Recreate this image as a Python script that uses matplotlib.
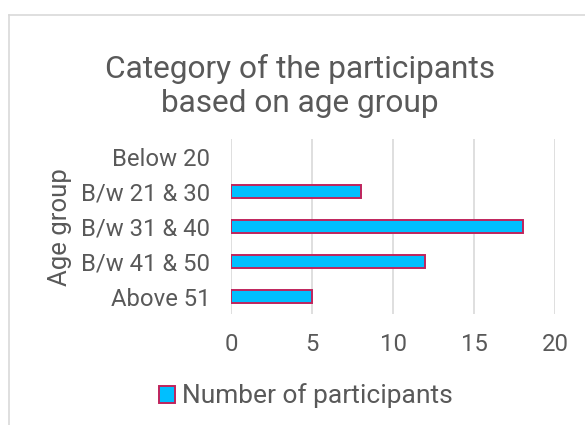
import matplotlib
matplotlib.use("Agg")
import matplotlib.pyplot as plt
from matplotlib.patches import Rectangle
from matplotlib.lines import Line2D

categories = ["Below 20", "B/w 21 & 30", "B/w 31 & 40", "B/w 41 & 50", "Above 51"]
participants = [0, 8, 18, 12, 5]
x_ticks = [0, 5, 10, 15, 20]
series_name = "Number of participants"

TEXT = "#595959"
GRID = "#d9d9d9"
FILL = "#00bfff"
EDGE = "#c0245c"

plt.rcParams["font.family"] = ["Roboto", "DejaVu Sans"]

W, H = 585, 425
fig = plt.figure(figsize=(W / 100, H / 100), dpi=100)
fig.patch.set_facecolor("white")


def fx(px):
    return px / W


def fy(py):
    return 1 - py / H


# chart-area border (top and left edges)
fig.add_artist(Line2D([fx(9), fx(9)], [0, fy(15)], transform=fig.transFigure,
                      color=GRID, lw=1.2))
fig.add_artist(Line2D([fx(9), 1], [fy(15), fy(15)], transform=fig.transFigure,
                      color=GRID, lw=1.2))

ax = fig.add_axes([fx(231), fy(314), fx(555) - fx(231), fy(139) - fy(314)])
ypos = list(range(len(categories)))
bars = ax.barh(ypos, participants, height=0.37, color=FILL, edgecolor=EDGE, linewidth=1.4,
               label=series_name, zorder=3)
# an empty category has no visible bar, not even its outline
for bar, v in zip(bars, participants):
    if v == 0:
        bar.set_linewidth(0)

ax.set_xlim(0, 20)
ax.set_ylim(len(categories) - 0.5, -0.5)
ax.set_xticks(x_ticks)
ax.set_yticks(ypos)
ax.set_yticklabels(categories)
ax.grid(axis="x", color=GRID, lw=1.2, zorder=0)
for s in ax.spines.values():
    s.set_visible(False)
ax.tick_params(axis="both", length=0, colors=TEXT, labelsize=17.2)
ax.tick_params(axis="y", pad=15)
ax.tick_params(axis="x", pad=13.5)

fig.text(fx(60), fy(227), "Age group", rotation=90, ha="center", va="center",
         fontsize=18.5, color=TEXT)

fig.text(fx(300), fy(78), "Category of the participants",
         ha="center", va="baseline", fontsize=22.8, color=TEXT)
fig.text(fx(300), fy(112), "based on age group",
         ha="center", va="baseline", fontsize=22.8, color=TEXT)

fig.legend(handles=[Rectangle((0, 0), 1, 1, facecolor=FILL, edgecolor=EDGE, lw=1.4)],
           labels=[series_name], loc="center", bbox_to_anchor=(fx(306), fy(396)),
           frameon=False, fontsize=19, handlelength=0.6, handleheight=0.6,
           handletextpad=0.25, borderpad=0, labelcolor=TEXT)

fig.savefig("out.png", dpi=100, facecolor="white")
